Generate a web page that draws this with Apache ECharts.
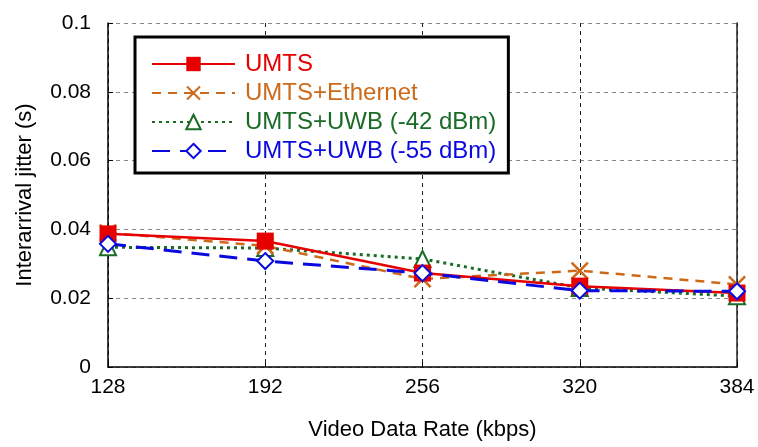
<!DOCTYPE html>
<html><head><meta charset="utf-8">
<script src="https://cdn.jsdelivr.net/npm/echarts@6/dist/echarts.min.js"></script>
<style>html,body{margin:0;padding:0;background:#fff}#c{width:758px;height:447px}</style>
</head><body><div id="c"></div>
<script>
const rates = [128, 192, 256, 320, 384];
const umts = [0.0387, 0.0366, 0.0273, 0.0235, 0.0215];
const umtsEth = [0.0390, 0.0352, 0.0256, 0.0280, 0.0240];
const uwb42 = [0.0348, 0.0346, 0.0314, 0.0230, 0.0206];
const uwb55 = [0.0358, 0.0308, 0.0273, 0.0222, 0.0220];
const names = ['UMTS', 'UMTS+Ethernet', 'UMTS+UWB (-42 dBm)', 'UMTS+UWB (-55 dBm)'];
const colors = ['#e60000', '#cc6a1a', '#1a6b26', '#0a0ae0'];

const xPath = 'path://M0,1L1,0L5,4L9,0L10,1L6,5L10,9L9,10L5,6L1,10L0,9L4,5Z';
const pairs = a => rates.map((r, i) => [r, a[i]]);
const font = 'Liberation Sans, Arial, sans-serif';

const chart = echarts.init(document.getElementById('c'), null, {renderer: 'canvas'});
chart.setOption({
  animation: false,
  backgroundColor: '#fff',
  grid: {left: 108, right: 21, top: 23, bottom: 80},
  xAxis: {
    type: 'value', min: 128, max: 384, interval: 64,
    name: 'Video Data Rate (kbps)', nameLocation: 'middle', nameGap: 52,
    nameTextStyle: {fontSize: 22, color: '#000', fontFamily: font},
    axisLine: {lineStyle: {color: '#000', width: 1.5}},
    axisTick: {inside: true, length: 5, lineStyle: {color: '#000'}},
    axisLabel: {fontSize: 21, color: '#000', fontFamily: font, margin: 10},
    splitLine: {show: true, lineStyle: {color: '#222', type: [4, 4], width: 1}}
  },
  yAxis: [{
    type: 'value', min: 0, max: 0.1, interval: 0.02,
    name: 'Interarrival jitter (s)', nameLocation: 'middle', nameGap: 72,
    nameTextStyle: {fontSize: 22, color: '#000', fontFamily: font},
    axisLine: {show: true, lineStyle: {color: '#000', width: 1.5}},
    axisTick: {show: true, inside: true, length: 5, lineStyle: {color: '#000'}},
    axisLabel: {fontSize: 21, color: '#000', fontFamily: font, margin: 17},
    splitLine: {show: true, lineStyle: {color: '#888', type: [4, 4], width: 1}}
  }, {
    type: 'value', min: 0, max: 0.1, interval: 0.02, position: 'right',
    axisLine: {show: true, lineStyle: {color: '#222', width: 1.5}},
    axisTick: {show: false}, axisLabel: {show: false}, splitLine: {show: false}
  }],
  legend: {
    orient: 'vertical', left: 135, top: 37,
    backgroundColor: '#fff', borderColor: '#000', borderWidth: 3,
    padding: [15, 12, 10, 16], itemGap: 5, itemWidth: 83, itemHeight: 18,
    textStyle: {fontSize: 24, fontFamily: font, padding: [0, 0, 0, 5]},
    data: names.map((n, i) => ({name: n, textStyle: {color: colors[i]}}))
  },
  series: [
    {name: names[0], type: 'line', data: pairs(umts), symbol: 'rect', symbolSize: 17,
     lineStyle: {color: colors[0], width: 2.5}, itemStyle: {color: colors[0]}, z: 5},
    {name: names[1], type: 'line', data: pairs(umtsEth), symbol: xPath, symbolSize: 18,
     lineStyle: {color: colors[1], width: 2.5, type: [9, 7]}, itemStyle: {color: colors[1]}, z: 4},
    {name: names[2], type: 'line', data: pairs(uwb42), symbol: 'emptyTriangle', symbolSize: 16,
     lineStyle: {color: colors[2], width: 3, type: [3, 4]}, itemStyle: {color: colors[2], borderColor: colors[2], borderWidth: 1.2}, z: 3},
    {name: names[3], type: 'line', data: pairs(uwb55), symbol: 'emptyDiamond', symbolSize: 16,
     lineStyle: {color: colors[3], width: 3, type: [18, 10]}, itemStyle: {color: colors[3], borderColor: colors[3], borderWidth: 1.5}, z: 6}
  ]
});
</script></body></html>
